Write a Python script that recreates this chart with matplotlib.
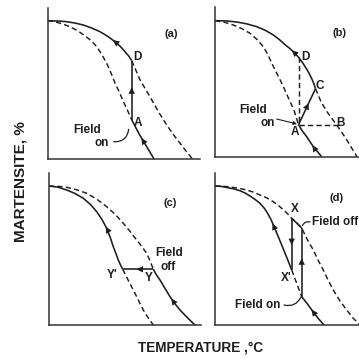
import numpy as np
import matplotlib
matplotlib.use("Agg")
import matplotlib.pyplot as plt

plt.rcParams['font.family'] = ['Liberation Sans', 'DejaVu Sans']

INK = '#1e1e1e'

# -------------------------------------------------
# Transformation curves, one pair per panel
# (temperature, martensite) with martensite = 0 at the axis
# "nofield" = ordinary cooling curve, "field" = curve with field applied
# -------------------------------------------------
# (a)
a_t_nofield = [0, 6, 12, 18.5, 25, 31.5, 38, 44, 49, 54, 59, 63, 67, 71.5,
               75.5, 80, 84, 92, 99, 106.5]
a_m_nofield = [138.6, 137.8, 136.2, 134, 131.2, 127.5, 123, 118.2, 112.6, 105, 96,
               87, 77, 67.5, 58, 48.5, 39.5, 24.3, 12.6, 0]
a_t_field = [0, 10, 19, 27.5, 35.6, 44, 52.3, 60, 67.3, 72.5, 77.3, 81, 84,
             88, 92, 97, 102, 107, 112, 117, 122, 127, 132, 138.5, 145]
a_m_field = [138.6, 138.3, 137.6, 136.2, 134.3, 131.3, 127.6, 123, 117.6, 113, 107.6,
             103.3, 98.6, 89.5, 80, 71.5, 63, 54.2, 45.5, 37.5, 30, 23, 16.5, 8, 0]
a_switch = (16, 12)    # A on nofield, D on field

# (b)
b_t_nofield = [0, 9, 18.3, 27, 35, 42, 48.3, 53, 56.5, 61, 65.5, 69.5, 73.3,
               76.5, 79.5, 83.5, 87.5, 91.7, 95, 98.3, 102.5, 106.7]
b_m_nofield = [136, 134.6, 131.7, 128, 123.4, 117.3, 110, 102, 94, 85, 76, 67.5, 59,
               52, 45, 32, 25.5, 20, 15, 10, 5, 0]
b_t_field = [0, 11, 21.7, 32, 41.7, 50.5, 58.3, 64.5, 70, 74.5, 78.3, 81, 83.5,
             87.8, 91.7, 94.2, 96.5, 98.7, 100.5,
             106, 112, 117, 121.5, 126, 131, 136.5, 142]
b_m_field = [136, 135.8, 134.7, 132.8, 130, 126.3, 121.7, 117, 112, 108.5, 105, 102.3, 99.5,
             93.7, 87.5, 83.2, 78.5, 73.5, 68,
             55, 45, 38, 32, 25.5, 18, 9, 0]
b_points = (15, 12, 18, 22)   # A on nofield; D, C, B on field

# (c)
c_t_nofield = [0, 9, 17.7, 26, 34.3, 41.5, 47.7, 53, 57.7, 61.3, 64.3, 67,
               69.3, 71.5, 73.7, 79, 84.3, 89.3, 94.3, 99.3, 104.3]
c_m_nofield = [139, 137.8, 135, 131.5, 126.7, 120.5, 113.3, 105.5, 96.7, 87.5, 78.3, 71.3,
               65, 60, 55.7, 45.2, 35, 25, 15, 7, 0]
c_t_field = [0, 9, 17.7, 27.5, 37.7, 47.8, 57.7, 66.5, 74.3, 81.3, 87.7, 93, 97.7,
             101.3, 104.3, 107.5, 111, 116, 121, 126, 131, 138.5, 146]
c_m_field = [139, 138.7, 137.7, 135.3, 131.7, 125.8, 118.3, 110.3, 101.7, 93.3, 85, 78.2, 71.7,
             63.5, 55.7, 50, 45, 36.6, 28.3, 21.2, 15, 7.2, 0]
c_switch = (14, 14)    # Y' on nofield, Y on field

# (d)
d_t_nofield = [0, 6, 12, 18.5, 25, 30, 35, 40, 45, 49.5, 53, 56, 58.3, 63, 67.5,
               72, 76.7, 86.7, 92.5, 98.3, 103.5, 109]
d_m_nofield = [139, 138.6, 137.5, 136.2, 134.3, 132, 129, 125.6, 121.7, 116.5, 111, 105.5,
               100, 89, 78, 67, 55, 28.3, 21, 13, 6.3, 0]
d_t_field = [0, 8, 15, 23.5, 31.7, 38.5, 45, 52, 58.3, 63.5, 68, 72.5, 76.7, 81.7,
             86.7, 92, 98.3, 103, 108.3, 113, 118.3, 125, 131.7, 138, 145]
d_m_field = [139, 138.8, 138, 136.8, 135, 132.8, 130, 127, 123.3, 119.5, 115.5, 111.3, 106.7,
             102, 97, 86, 75, 65, 55, 45, 35, 24, 15, 7, 0]
d_switch = (16, 17, 12, 14)  # X', field-on point on nofield; X, field-off top on field

# panel boxes in pixels: left, top, right, bottom
W = 359
boxes = {
    'a': (47.7, 8.3, 200.0, 159.3),
    'b': (215.0, 6.7, 359.0, 156.7),
    'c': (49.0, 173.0, 200.7, 325.0),
    'd': (215.0, 173.3, 359.0, 325.0),
}

fig = plt.figure(figsize=(3.59, 3.59), dpi=100)
fig.patch.set_facecolor('white')


def panel(key):
    l, t, r, b = boxes[key]
    ax = fig.add_axes([l / W, 1 - b / W, (r - l) / W, (b - t) / W])
    ax.set_xlim(0, r - l)
    ax.set_ylim(0, b - t)
    for s in ['top', 'right']:
        ax.spines[s].set_visible(False)
    for s in ['left', 'bottom']:
        ax.spines[s].set_linewidth(1.1)
        ax.spines[s].set_color('#333333')
    ax.set_xticks([])
    ax.set_yticks([])
    ax.patch.set_alpha(0)
    return ax


def solid(ax, x, y):
    ax.plot(x, y, color=INK, lw=1.15, solid_capstyle='butt',
            solid_joinstyle='round', clip_on=False)


def dashed(ax, x, y):
    ax.plot(x, y, color=INK, lw=1.05, dashes=(3.6, 2.2), clip_on=False)


def flow(ax, x0, y0, x1, y1, f=0.5):
    # arrowhead pointing from (x0, y0) towards (x1, y1), tip at fraction f
    tx, ty = x0 + f * (x1 - x0), y0 + f * (y1 - y0)
    ax.annotate('', xy=(tx, ty), xytext=(x0, y0),
                arrowprops=dict(arrowstyle='-|>,head_length=0.45,head_width=0.22',
                                color=INK, lw=0, mutation_scale=10.5,
                                shrinkA=0, shrinkB=0))


def along(ax, xs, ys, i, j, f):
    flow(ax, xs[i], ys[i], xs[j], ys[j], f)


def label(ax, x, y, s, size=8.5, **kw):
    ax.text(x, y, s, fontsize=size, fontweight='bold', color=INK,
            ha=kw.pop('ha', 'center'), va=kw.pop('va', 'center'), **kw)


# -------------------------------------------------
# (a) field switched on at A, jump to D
# -------------------------------------------------
ax = panel('a')
ia, idd = a_switch
dashed(ax, a_t_nofield[:ia + 1], a_m_nofield[:ia + 1])
dashed(ax, a_t_field[idd:], a_m_field[idd:])
solid(ax, a_t_field[:idd + 1], a_m_field[:idd + 1])
solid(ax, [a_t_nofield[ia], a_t_field[idd]], [a_m_nofield[ia], a_m_field[idd]])
solid(ax, a_t_nofield[ia:], a_m_nofield[ia:])
along(ax, a_t_field, a_m_field, 8, 7, 0.3)
flow(ax, a_t_nofield[ia], a_m_nofield[ia], a_t_field[idd], a_m_field[idd], 0.55)
along(ax, a_t_nofield, a_m_nofield, 18, 17, 0.75)
label(ax, 124, 125, '(a)', 8)
label(ax, 89.5, 101.8, 'D')
label(ax, 89.8, 36.8, 'A')
label(ax, 39.8, 29.3, 'Field')
label(ax, 54.3, 16.8, 'on')
ax.annotate('', xy=(81, 30), xytext=(66, 17.5),
            arrowprops=dict(arrowstyle='-', color=INK, lw=0.9,
                            connectionstyle='arc3,rad=0.45', shrinkA=0, shrinkB=0))

# -------------------------------------------------
# (b) field ramped from A to C
# -------------------------------------------------
ax = panel('b')
ia, idd, ic, ib = b_points
dashed(ax, b_t_nofield[:ia + 1], b_m_nofield[:ia + 1])
dashed(ax, b_t_field[ic:], b_m_field[ic:])
dashed(ax, [b_t_field[idd], b_t_nofield[ia]], [b_m_field[idd], b_m_nofield[ia]])
dashed(ax, [b_t_nofield[ia], b_t_field[ib]], [b_m_nofield[ia], b_m_field[ib]])
solid(ax, b_t_field[:ic + 1], b_m_field[:ic + 1])
solid(ax, [b_t_nofield[ia], b_t_field[ic]], [b_m_nofield[ia], b_m_field[ic]])
solid(ax, b_t_nofield[ia:], b_m_nofield[ia:])
along(ax, b_t_field, b_m_field, 10, 9, 0.4)
flow(ax, b_t_nofield[ia], b_m_nofield[ia], b_t_field[ic], b_m_field[ic], 0.6)
along(ax, b_t_nofield, b_m_nofield, 19, 18, 0.3)
label(ax, 124.3, 123.4, '(b)', 8)
label(ax, 90, 100, 'D')
label(ax, 105, 70.7, 'C')
label(ax, 80, 25, 'A')
label(ax, 125.5, 33.4, 'B')
label(ax, 38.3, 46.7, 'Field')
label(ax, 52.5, 33.7, 'on')
ax.annotate('', xy=(82, 32.7), xytext=(61.7, 37.7),
            arrowprops=dict(arrowstyle='-|>', color=INK, lw=0.8,
                            mutation_scale=5, shrinkA=0, shrinkB=0))

# -------------------------------------------------
# (c) field switched off at Y, step back to Y'
# -------------------------------------------------
ax = panel('c')
iyp, iy = c_switch
dashed(ax, c_t_field[:iy + 1], c_m_field[:iy + 1])
dashed(ax, c_t_nofield[iyp:], c_m_nofield[iyp:])
solid(ax, c_t_nofield[:iyp + 1], c_m_nofield[:iyp + 1])
solid(ax, [c_t_field[iy], c_t_nofield[iyp]], [c_m_field[iy], c_m_nofield[iyp]])
solid(ax, c_t_field[iy:], c_m_field[iy:])
along(ax, c_t_nofield, c_m_nofield, 8, 7, 0.2)
flow(ax, c_t_field[iy], c_m_field[iy], c_t_nofield[iyp], c_m_nofield[iyp], 0.55)
along(ax, c_t_field, c_m_field, 19, 18, 0.75)
label(ax, 121, 121.7, '(c)', 8)
label(ax, 120.5, 71.7, 'Field')
label(ax, 119.5, 58.3, 'off')
label(ax, 62.7, 50, "Y'")
label(ax, 99.3, 46.7, 'Y')

# -------------------------------------------------
# (d) field on, then off at X, drop to X'
# -------------------------------------------------
ax = panel('d')
ixp, ion, ix, itop = d_switch
dashed(ax, d_t_field, d_m_field)
dashed(ax, d_t_nofield[ixp:ion + 1], d_m_nofield[ixp:ion + 1])
solid(ax, d_t_nofield[:ixp + 1], d_m_nofield[:ixp + 1])
solid(ax, d_t_nofield[ion:], d_m_nofield[ion:])
solid(ax, [d_t_nofield[ion], d_t_field[itop]], [d_m_nofield[ion], d_m_field[itop]])
solid(ax, d_t_field[ix:itop + 1], d_m_field[ix:itop + 1])
solid(ax, [d_t_field[ix], d_t_nofield[ixp]], [d_m_field[ix], d_m_nofield[ixp]])
along(ax, d_t_nofield, d_m_nofield, 12, 11, 0.3)
flow(ax, d_t_field[ix], d_m_field[ix], d_t_nofield[ixp], d_m_nofield[ixp], 0.52)
flow(ax, d_t_nofield[ion], d_m_nofield[ion], d_t_field[itop], d_m_field[itop], 0.56)
along(ax, d_t_nofield, d_m_nofield, 19, 18, 0.3)
label(ax, 121.7, 126.7, '(d)', 8)
label(ax, 80, 115.7, 'X')
label(ax, 71.7, 46.7, "X'")
label(ax, 96.7, 103.3, 'Field off', ha='left')
label(ax, 42.5, 20, 'Field on')
ax.annotate('', xy=(95, 103), xytext=(87.5, 99.5),
            arrowprops=dict(arrowstyle='-', color=INK, lw=0.9,
                            connectionstyle='arc3,rad=-0.4', shrinkA=0, shrinkB=0))
ax.annotate('', xy=(86, 28), xytext=(69, 20),
            arrowprops=dict(arrowstyle='-', color=INK, lw=0.9,
                            connectionstyle='arc3,rad=0.4', shrinkA=0, shrinkB=0))

# axis titles
fig.text(201 / W, 1 - 348 / W, 'TEMPERATURE ,\u00b0C', fontsize=9.8,
         fontweight='bold', color=INK, ha='center', va='center')
fig.text(21 / W, 1 - 182 / W, 'MARTENSITE, %', fontsize=11,
         fontweight='bold', color=INK, ha='center', va='center', rotation=90)

fig.savefig('out.png', dpi=100, facecolor='white')
